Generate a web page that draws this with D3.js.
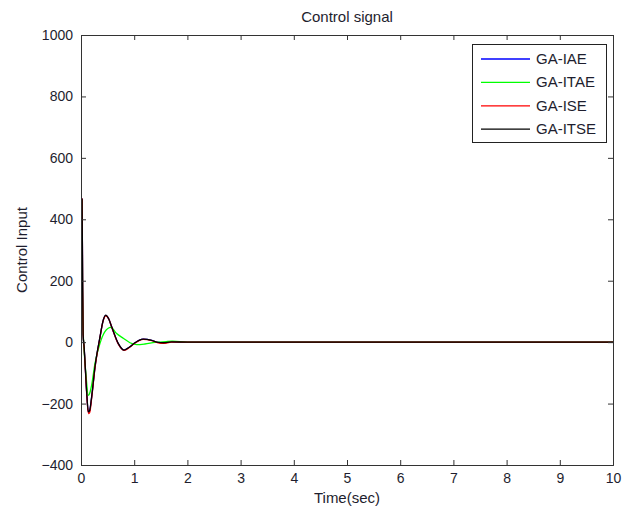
<!DOCTYPE html>
<html><head><meta charset="utf-8">
<script src="https://cdn.jsdelivr.net/npm/d3@7"></script>
<style>
html,body{margin:0;padding:0;background:#fff;}
text{font-family:"Liberation Sans",Arial,sans-serif;fill:#1e1e2e;}
</style></head>
<body>
<script>
// ---- data ----
const xTicks = [0,1,2,3,4,5,6,7,8,9,10];
const yTicks = [-400,-200,0,200,400,600,800,1000];
const seriesNames = ["GA-IAE","GA-ITAE","GA-ISE","GA-ITSE"];
const seriesColors = ["#0000ff","#00ff00","#ff0000","#000000"];

const tIAE  = [0,0.02,0.03,0.04,0.06,0.08,0.11,0.137,0.16,0.2,0.263,0.357,0.41,0.464,0.52,0.577,0.70,0.81,0.92,1.015,1.09,1.17,1.33,1.45,1.55,1.7,2,10];
const vIAE  = [469,465,200,25,-20,-80,-172,-228,-224,-180,-82,16,66,87,76,49,-5,-26,-15,-2,6,10,6,-1,-2,1,0,0];

const tITAE = [0,0.02,0.028,0.04,0.06,0.094,0.137,0.16,0.2,0.263,0.357,0.45,0.56,0.67,0.8,0.92,1.05,1.2,1.39,1.6,1.72,2,10];
const vITAE = [469,460,199,40,-30,-107,-173,-168,-140,-69,-4,34,48,28,12,-2,-8,-6,-1,2,3,0,0];

const tISE  = [0,0.02,0.03,0.04,0.06,0.08,0.11,0.14,0.165,0.2,0.263,0.357,0.41,0.466,0.52,0.58,0.70,0.81,0.92,1.015,1.09,1.17,1.33,1.45,1.55,1.7,2,10];
const vISE  = [469,466,205,27,-22,-83,-176,-233,-228,-183,-84,15,65,86,76,48,-6,-27,-16,-3,5,9,5,-2,-4,0,0,0];

const tITSE = [0,0.02,0.03,0.04,0.06,0.08,0.11,0.137,0.16,0.2,0.263,0.357,0.41,0.464,0.52,0.577,0.70,0.81,0.92,1.015,1.09,1.17,1.33,1.45,1.55,1.7,2,10];
const vITSE = [469,465,200,25,-18,-80,-172,-227,-224,-178,-80,17,66,88,76,50,-4,-26,-15,-2,6,10,6,-1,-2,1,0,0];

const seriesT = [tIAE,tITAE,tISE,tITSE];
const seriesV = [vIAE,vITAE,vISE,vITSE];

// ---- layout ----
const W = 630, H = 511;
const L = 81, R = 613, T = 35, B = 465;
const svg = d3.select("body").append("svg").attr("width",W).attr("height",H);

const x = d3.scaleLinear().domain([0,10]).range([L,R]);
const y = d3.scaleLinear().domain([-400,1000]).range([B,T]);

const axisColor = "#333";

// curves (clipped)
svg.append("clipPath").attr("id","clip").append("rect")
  .attr("x",L).attr("y",T).attr("width",R-L).attr("height",B-T);
const line = d3.line().x(d=>x(d[0])).y(d=>y(d[1])).curve(d3.curveMonotoneX);
const g = svg.append("g").attr("clip-path","url(#clip)");
seriesNames.forEach((n,i)=>{
  const pts = seriesT[i].map((t,j)=>[t,seriesV[i][j]]);
  g.append("path").datum(pts).attr("d",line)
    .attr("fill","none").attr("stroke",seriesColors[i]).attr("stroke-width",1.3);
});

// axes (MATLAB style: ticks inside, box)
const tk = 5;
const xAxisB = d3.axisBottom(x).tickValues(xTicks).tickSize(-tk).tickPadding(8).tickFormat(d3.format("d"));
const xAxisT = d3.axisTop(x).tickValues(xTicks).tickSize(-tk).tickFormat("");
const yAxisL = d3.axisLeft(y).tickValues(yTicks).tickSize(-tk).tickPadding(8).tickFormat(d3.format("d"));
const yAxisR = d3.axisRight(y).tickValues(yTicks).tickSize(-tk).tickFormat("");

function style(sel){
  sel.selectAll("path.domain").attr("stroke",axisColor).attr("stroke-width",1);
  sel.selectAll(".tick line").attr("stroke",axisColor);
  sel.selectAll(".tick text").attr("font-size","14px").attr("fill","#1e1e2e")
     .attr("font-family","'Liberation Sans',Arial,sans-serif");
}
svg.append("g").attr("transform",`translate(0,${B})`).call(xAxisB).call(style);
svg.append("g").attr("transform",`translate(0,${T})`).call(xAxisT).call(style);
svg.append("g").attr("transform",`translate(${L},0)`).call(yAxisL).call(style);
svg.append("g").attr("transform",`translate(${R},0)`).call(yAxisR).call(style);

// titles
svg.append("text").attr("x",(L+R)/2).attr("y",22).attr("text-anchor","middle")
  .attr("font-size","15px").text("Control signal");
svg.append("text").attr("x",(L+R)/2).attr("y",503).attr("text-anchor","middle")
  .attr("font-size","15px").text("Time(sec)");
svg.append("text").attr("transform",`translate(27,${(T+B)/2}) rotate(-90)`).attr("text-anchor","middle")
  .attr("font-size","15px").text("Control Input");

// legend
const lg = svg.append("g");
lg.append("rect").attr("x",472.5).attr("y",44.5).attr("width",134).attr("height",98)
  .attr("fill","#fff").attr("stroke","#222").attr("stroke-width",1);
seriesNames.forEach((n,i)=>{
  const yy = 59 + i*23.4;
  lg.append("line").attr("x1",481).attr("x2",530).attr("y1",yy).attr("y2",yy)
    .attr("stroke",seriesColors[i]).attr("stroke-width",1.3);
  lg.append("text").attr("x",536).attr("y",yy+5).attr("font-size","15px").text(n);
});
</script>
</body></html>
